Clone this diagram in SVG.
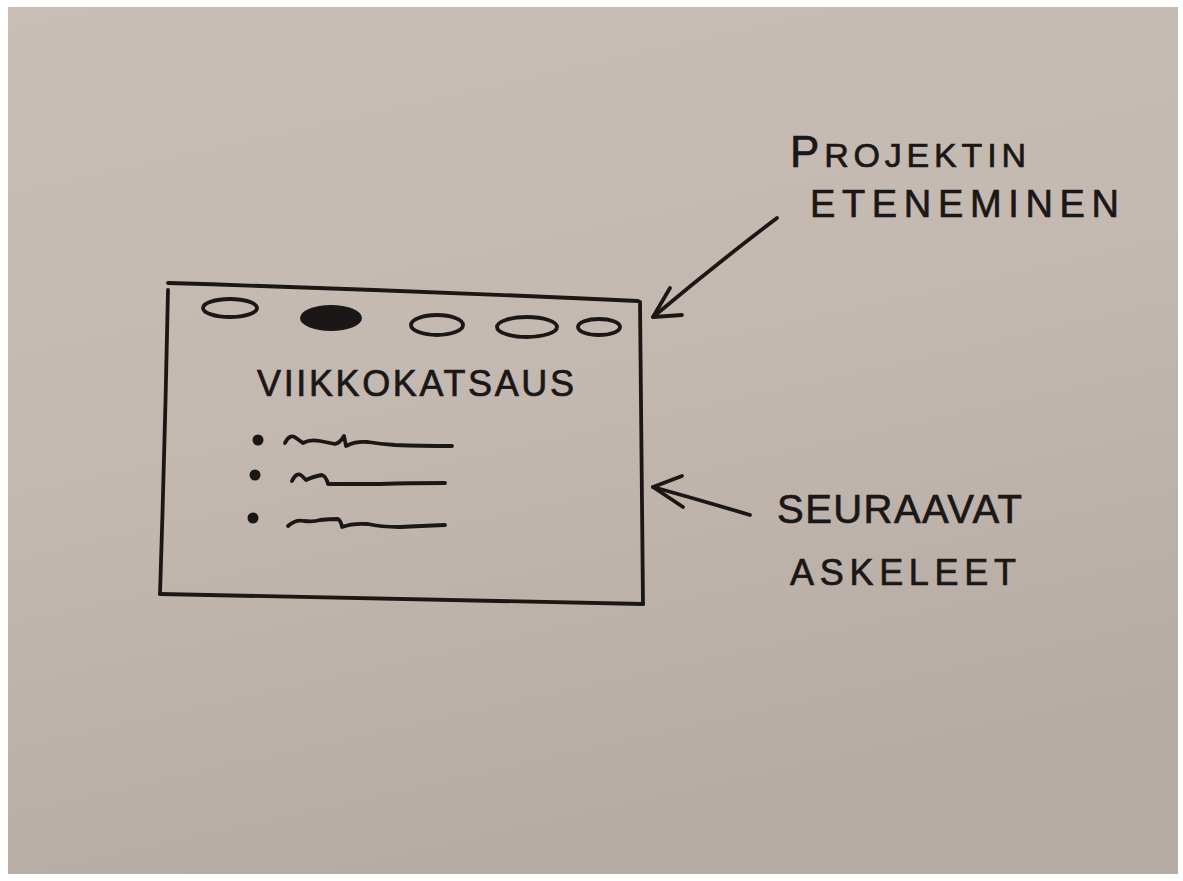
<svg xmlns="http://www.w3.org/2000/svg" width="1183" height="881" viewBox="0 0 1183 881">
<defs>
<linearGradient id="paper" x1="0" y1="0" x2="0.3" y2="1">
<stop offset="0" stop-color="#c8beb5"/>
<stop offset="0.5" stop-color="#c3b9b0"/>
<stop offset="1" stop-color="#b6aca4"/>
</linearGradient>
<style>
.ink{fill:none;stroke:#1b1717;stroke-width:3.8;stroke-linecap:round;stroke-linejoin:round}
.dot{fill:#1b1717}
.hand{font-family:"Liberation Sans","DejaVu Sans",sans-serif;fill:#1b1717;stroke:#1b1717;stroke-width:0.7;letter-spacing:1px}
</style>
</defs>
<rect x="0" y="0" width="1183" height="881" fill="#ffffff"/>
<rect x="8" y="7" width="1170" height="867" fill="url(#paper)"/>

<g id="window">
<path class="ink" d="M168,283 Q400,290 638,301"/>
<path class="ink" d="M168,290 Q165,440 160,594"/>
<path class="ink" d="M640,302 Q641,450 643,604"/>
<path class="ink" d="M160,594 Q400,598 643,604"/>
<ellipse class="ink" cx="230" cy="308" rx="27" ry="9"/>
<ellipse cx="331" cy="318" rx="31" ry="13" fill="#1b1717"/>
<ellipse class="ink" cx="437" cy="325" rx="26" ry="10"/>
<ellipse class="ink" cx="527" cy="327" rx="30" ry="10"/>
<ellipse class="ink" cx="599" cy="327" rx="21" ry="8"/>
<text class="hand" x="257" y="396" font-size="36" textLength="318" lengthAdjust="spacing">VIIKKOKATSAUS</text>
<circle class="dot" cx="258" cy="440" r="5.5"/>
<circle class="dot" cx="255" cy="475" r="5.5"/>
<circle class="dot" cx="253" cy="518" r="5.5"/>
<path class="ink" stroke-width="4.5" d="M285,443 Q290,433 296,438 L303,443 Q310,439 320,441 L335,444 Q340,443 344,436 L346,446 Q355,441 368,442 Q380,444 395,445 Q420,446 452,446"/>
<path class="ink" stroke-width="4.5" d="M292,481 Q297,471 302,476 L306,480 Q315,476 322,475 Q326,476 328,484 Q350,484 380,484 Q410,483 445,483"/>
<path class="ink" stroke-width="4.5" d="M288,526 Q296,519 304,521 Q314,522 320,520 Q330,519 338,519 Q341,521 342,527 Q352,523 368,524 Q380,527 400,527 Q420,526 445,525"/>
</g>

<g id="label-projektin">
<text class="hand" x="790" y="167" font-size="34" textLength="237" lengthAdjust="spacing"><tspan font-size="44">P</tspan>ROJEKTIN</text>
<text class="hand" x="810" y="217" font-size="38" textLength="310" lengthAdjust="spacing">ETENEMINEN</text>
</g>

<g id="label-seuraavat">
<text class="hand" x="777" y="523" font-size="40" textLength="246" lengthAdjust="spacing">SEURAAVAT</text>
<text class="hand" x="790" y="585" font-size="36" textLength="227" lengthAdjust="spacing">ASKELEET</text>
</g>

<g id="connectors">
<path class="ink" d="M777,218 Q715,265 653,317"/>
<path class="ink" d="M670,288 L653,317 L682,315"/>
<path class="ink" stroke-width="5" d="M750,515 Q700,500 653,487"/>
<path class="ink" stroke-width="4.5" d="M682,476 L653,487 L683,507"/>
</g>
</svg>
